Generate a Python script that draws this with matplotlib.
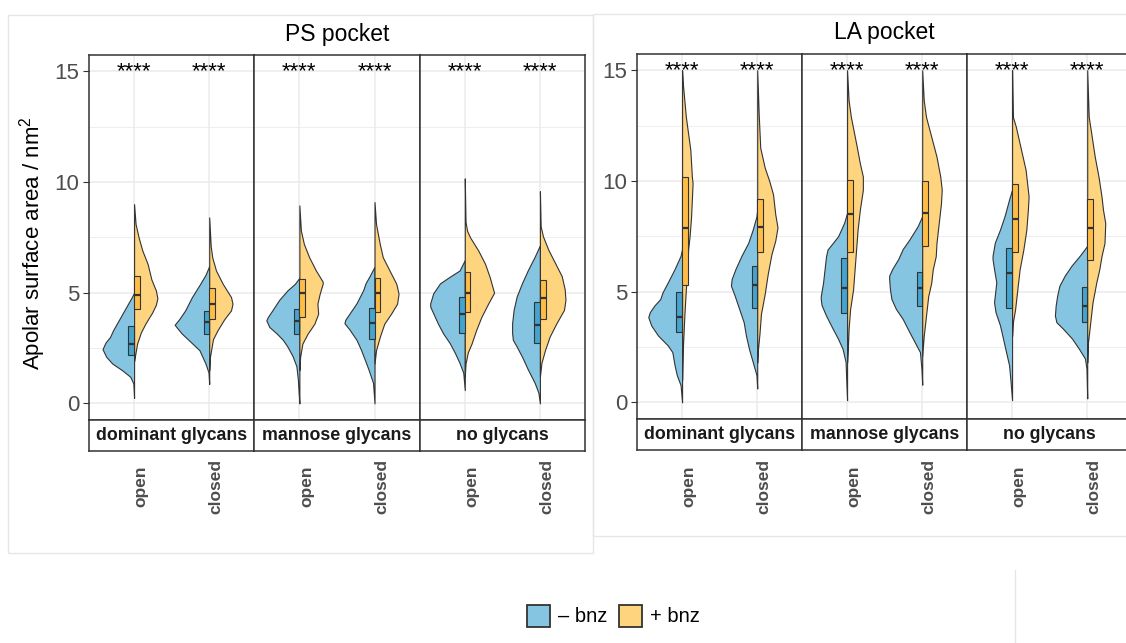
import matplotlib.pyplot as plt
from matplotlib.patches import Rectangle
from matplotlib.lines import Line2D

plt.rcParams['font.family'] = ['Liberation Sans', 'DejaVu Sans']
plt.rcParams['mathtext.fontset'] = 'custom'
plt.rcParams['mathtext.rm'] = 'Liberation Sans'
plt.rcParams['mathtext.it'] = 'Liberation Sans:italic'

pockets = ["PS pocket", "LA pocket"]
glycans = ["dominant glycans", "mannose glycans", "no glycans"]
states = ["open", "closed"]
treatments = ["\u2013 bnz", "+ bnz"]
signif = "****"

# half-violin outlines: (value, half width in category units)
ps_dom_open_minus = [(0.25, 0), (0.9, 0.01), (1.2, 0.05), (1.5, 0.16), (1.8, 0.29), (2.1, 0.37), (2.45, 0.42),
                     (2.75, 0.38), (3.0, 0.32), (3.3, 0.28), (3.6, 0.23), (3.9, 0.18), (4.2, 0.13), (4.5, 0.08),
                     (4.8, 0.03), (5.0, 0)]
ps_dom_open_plus = [(1.9, 0), (2.1, 0.01), (2.7, 0.04), (3.2, 0.09), (3.6, 0.15), (4.1, 0.24), (4.45, 0.29),
                    (4.75, 0.31), (5.1, 0.29), (5.6, 0.23), (6.3, 0.18), (6.9, 0.11), (7.5, 0.06), (8.1, 0.02),
                    (9.0, 0)]
ps_dom_closed_minus = [(0.88, 0), (1.4, 0.01), (1.8, 0.05), (2.4, 0.13), (2.85, 0.27), (3.17, 0.37), (3.55, 0.46),
                       (3.8, 0.40), (4.2, 0.32), (4.8, 0.23), (5.4, 0.12), (5.8, 0.05), (6.2, 0)]
ps_dom_closed_plus = [(1.5, 0), (2.1, 0.01), (2.9, 0.05), (3.3, 0.11), (3.8, 0.20), (4.2, 0.29), (4.5, 0.31),
                      (4.8, 0.29), (5.4, 0.18), (6.0, 0.09), (6.6, 0.04), (7.1, 0.02), (8.4, 0)]
ps_man_open_minus = [(0.0, 0), (0.5, 0.01), (1.08, 0.02), (1.68, 0.04), (2.13, 0.09), (2.57, 0.16), (2.87, 0.22),
                     (3.15, 0.30), (3.45, 0.40), (3.75, 0.44), (3.9, 0.42), (4.2, 0.36), (4.67, 0.27), (5.1, 0.16),
                     (5.4, 0.06), (5.67, 0)]
ps_man_open_plus = [(1.5, 0), (2.1, 0.01), (2.7, 0.04), (3.15, 0.11), (3.6, 0.20), (4.05, 0.25), (4.5, 0.24),
                    (4.95, 0.27), (5.4, 0.31), (5.5, 0.31), (6.0, 0.22), (6.6, 0.13), (7.2, 0.06), (7.8, 0.02),
                    (8.94, 0)]
ps_man_closed_minus = [(0.0, 0), (0.93, 0.02), (1.53, 0.08), (1.98, 0.13), (2.42, 0.18), (2.87, 0.24), (3.32, 0.33),
                       (3.62, 0.40), (3.77, 0.39), (4.07, 0.33), (4.52, 0.24), (5.12, 0.15), (5.42, 0.12),
                       (5.72, 0.07), (6.17, 0)]
ps_man_closed_plus = [(1.8, 0), (2.4, 0.02), (3.0, 0.07), (3.6, 0.13), (4.05, 0.22), (4.5, 0.30), (4.95, 0.32),
                      (5.4, 0.29), (6.0, 0.20), (6.6, 0.11), (7.2, 0.07), (8.1, 0.02), (9.09, 0)]
ps_no_open_minus = [(0.6, 0), (1.38, 0.02), (1.83, 0.07), (2.27, 0.13), (2.72, 0.20), (3.17, 0.29), (3.62, 0.36),
                    (4.07, 0.42), (4.37, 0.46), (4.52, 0.46), (4.97, 0.42), (5.42, 0.33), (5.72, 0.20), (6.0, 0.07),
                    (6.47, 0)]
ps_no_open_plus = [(1.2, 0), (1.8, 0.01), (2.3, 0.04), (2.7, 0.09), (3.3, 0.15), (3.9, 0.22), (4.5, 0.31),
                   (5.0, 0.39), (5.72, 0.33), (6.3, 0.27), (6.9, 0.18), (7.5, 0.07), (7.8, 0.03), (8.2, 0.01),
                   (10.16, 0)]
ps_no_closed_minus = [(0.0, 0), (0.48, 0.02), (0.93, 0.07), (1.53, 0.16), (2.12, 0.24), (2.57, 0.31), (2.87, 0.36),
                      (3.17, 0.37), (3.62, 0.37), (4.22, 0.35), (4.82, 0.31), (5.42, 0.24), (6.02, 0.16),
                      (6.62, 0.07), (7.14, 0)]
ps_no_closed_plus = [(1.2, 0), (1.83, 0.02), (2.43, 0.07), (3.02, 0.13), (3.62, 0.22), (4.22, 0.32), (4.67, 0.34),
                     (5.15, 0.33), (5.75, 0.29), (6.35, 0.20), (6.95, 0.11), (7.55, 0.04), (8.0, 0.01), (9.58, 0)]

la_dom_open_minus = [(0.0, 0), (0.78, 0.02), (1.23, 0.07), (1.68, 0.10), (2.27, 0.13), (2.57, 0.19), (3.02, 0.32),
                     (3.47, 0.41), (3.85, 0.45), (4.07, 0.43), (4.37, 0.37), (4.67, 0.29), (4.97, 0.26),
                     (5.42, 0.19), (6.02, 0.10), (6.62, 0.02), (6.92, 0)]
la_dom_open_plus = [(1.0, 0), (2.4, 0.01), (3.9, 0.03), (5.1, 0.05), (6.0, 0.07), (6.9, 0.08), (7.5, 0.10),
                    (8.4, 0.12), (9.9, 0.14), (10.2, 0.13), (11.4, 0.11), (12.9, 0.05), (14.4, 0.01), (15.0, 0)]
la_dom_closed_minus = [(0.63, 0), (1.23, 0.01), (1.83, 0.06), (2.42, 0.11), (3.02, 0.15), (3.62, 0.18), (4.22, 0.24),
                       (4.82, 0.30), (5.27, 0.35), (5.57, 0.34), (6.02, 0.29), (6.62, 0.21), (7.2, 0.12),
                       (7.8, 0.06), (8.4, 0.01), (8.7, 0)]
la_dom_closed_plus = [(1.8, 0), (2.4, 0.01), (3.1, 0.03), (4.0, 0.05), (4.9, 0.10), (5.8, 0.14), (6.7, 0.19),
                      (7.3, 0.24), (7.9, 0.27), (8.5, 0.24), (9.4, 0.21), (10.0, 0.16), (10.6, 0.10), (11.5, 0.04),
                      (13.0, 0.02), (15.0, 0)]
la_man_open_minus = [(0.1, 0), (0.93, 0.01), (1.83, 0.02), (2.42, 0.06), (2.87, 0.12), (3.32, 0.19), (3.92, 0.28),
                     (4.4, 0.34), (4.67, 0.35), (4.8, 0.35), (5.4, 0.32), (6.0, 0.30), (6.6, 0.28), (6.9, 0.26),
                     (7.2, 0.19), (7.5, 0.12), (8.1, 0.04), (8.56, 0)]
la_man_open_plus = [(1.8, 0), (2.4, 0.01), (3.3, 0.02), (4.2, 0.04), (5.1, 0.08), (6.0, 0.10), (6.9, 0.12),
                    (7.8, 0.14), (8.7, 0.17), (9.6, 0.21), (10.2, 0.21), (10.8, 0.17), (11.7, 0.12), (12.9, 0.05),
                    (13.65, 0.02), (15.0, 0)]
la_man_closed_minus = [(0.8, 0), (1.5, 0.01), (2.27, 0.03), (2.72, 0.10), (3.17, 0.17), (3.77, 0.26), (4.22, 0.35),
                       (4.67, 0.41), (5.12, 0.43), (5.57, 0.44), (5.72, 0.44), (6.02, 0.40), (6.47, 0.32),
                       (6.92, 0.26), (7.36, 0.17), (7.96, 0.06), (8.41, 0)]
la_man_closed_plus = [(2.1, 0), (3.0, 0.02), (3.9, 0.05), (4.8, 0.08), (5.4, 0.12), (6.0, 0.14), (6.6, 0.18),
                      (7.2, 0.19), (7.8, 0.21), (8.4, 0.23), (9.0, 0.25), (9.6, 0.26), (10.2, 0.24), (11.1, 0.19),
                      (12.0, 0.12), (12.9, 0.05), (13.65, 0.02), (15.0, 0)]
la_no_open_minus = [(0.1, 0), (0.93, 0.02), (1.68, 0.04), (2.27, 0.08), (2.87, 0.12), (3.47, 0.16), (4.07, 0.22),
                    (4.52, 0.24), (4.82, 0.23), (5.42, 0.21), (6.02, 0.24), (6.47, 0.26), (6.62, 0.26),
                    (7.21, 0.23), (7.81, 0.16), (8.41, 0.10), (9.16, 0.04), (9.61, 0)]
la_no_open_plus = [(3.0, 0), (3.6, 0.01), (4.2, 0.04), (5.1, 0.07), (6.0, 0.10), (6.9, 0.15), (7.8, 0.19),
                   (8.7, 0.21), (9.3, 0.22), (9.6, 0.21), (10.5, 0.18), (11.4, 0.12), (12.45, 0.05), (12.9, 0.01),
                   (15.0, 0)]
la_no_closed_minus = [(0.18, 0), (1.53, 0.01), (1.98, 0.03), (2.42, 0.11), (2.87, 0.20), (3.32, 0.32), (3.62, 0.41),
                      (3.92, 0.43), (4.37, 0.42), (4.82, 0.40), (5.27, 0.37), (5.72, 0.30), (6.17, 0.21),
                      (6.62, 0.10), (7.07, 0)]
la_no_closed_plus = [(1.8, 0), (2.7, 0.01), (3.6, 0.04), (4.5, 0.07), (5.4, 0.12), (6.0, 0.16), (6.6, 0.19),
                     (7.2, 0.23), (8.1, 0.24), (8.7, 0.21), (9.3, 0.19), (10.2, 0.15), (11.1, 0.10), (12.0, 0.06),
                     (12.9, 0.02), (15.0, 0)]

# boxplots (q1, median, q3), order: dominant open/closed, mannose open/closed, no open/closed
ps_box_minus = [(2.2, 2.7, 3.5), (3.13, 3.67, 4.18), (3.13, 3.7, 4.28), (2.9, 3.65, 4.31), (3.17, 4.03, 4.79),
                (2.72, 3.55, 4.58)]
ps_box_plus = [(4.25, 4.9, 5.76), (3.8, 4.48, 5.21), (3.88, 4.97, 5.6), (4.13, 4.97, 5.64), (4.13, 4.97, 5.94),
               (3.83, 4.75, 5.57)]
la_box_minus = [(3.2, 3.85, 4.97), (4.25, 5.3, 6.17), (4.03, 5.16, 6.51), (4.37, 5.16, 5.91), (4.27, 5.84, 6.96),
                (3.62, 4.37, 5.19)]
la_box_plus = [(5.3, 7.86, 10.16), (6.8, 7.93, 9.2), (6.77, 8.49, 10.03), (7.07, 8.53, 10.0), (6.77, 8.26, 9.85),
               (6.42, 7.89, 9.2)]

violins = {
    "PS pocket": ([ps_dom_open_minus, ps_dom_closed_minus, ps_man_open_minus, ps_man_closed_minus,
                   ps_no_open_minus, ps_no_closed_minus],
                  [ps_dom_open_plus, ps_dom_closed_plus, ps_man_open_plus, ps_man_closed_plus,
                   ps_no_open_plus, ps_no_closed_plus]),
    "LA pocket": ([la_dom_open_minus, la_dom_closed_minus, la_man_open_minus, la_man_closed_minus,
                   la_no_open_minus, la_no_closed_minus],
                  [la_dom_open_plus, la_dom_closed_plus, la_man_open_plus, la_man_closed_plus,
                   la_no_open_plus, la_no_closed_plus]),
}
boxes = {"PS pocket": (ps_box_minus, ps_box_plus), "LA pocket": (la_box_minus, la_box_plus)}

violin_col = ["#86C5E1", "#FFD47F"]
box_col = ["#42A4CF", "#FFBD45"]
edge = "#333333"

W, H = 1126, 643
fig = plt.figure(figsize=(W / 100, H / 100), dpi=100)


def fx(px):
    return px / W


def fy(py):
    return 1 - py / H


# faint frames of the two pasted panels
fig.add_artist(Rectangle((fx(8), fy(553)), fx(585), (553 - 15) / H, transform=fig.transFigure,
                         fill=False, ec="#E6E6E6", lw=1))
fig.add_artist(Rectangle((fx(593), fy(535.7)), fx(540), (535.7 - 13.6) / H, transform=fig.transFigure,
                         fill=False, ec="#E6E6E6", lw=1))
fig.add_artist(Line2D([fx(1015), fx(1015)], [fy(570), 0], transform=fig.transFigure, color="#E6E6E6", lw=1))

facet_left = {"PS pocket": [89, 254.3, 419.7], "LA pocket": [637, 802, 967]}
facet_w = 165.3
facet_top = {"PS pocket": 54.6, "LA pocket": 53.6}
facet_bot = {"PS pocket": 420, "LA pocket": 419}
strip_h = 30.5
title_pos = {"PS pocket": (336.8, 34), "LA pocket": (884, 32)}
bw = 0.075

for p in pockets:
    top, bot = facet_top[p], facet_bot[p]
    for i, g in enumerate(glycans):
        left = facet_left[p][i]
        ax = fig.add_axes([fx(left), fy(bot), fx(facet_w), (bot - top) / H])
        ax.set_xlim(0.4, 2.6)
        ax.set_ylim(-0.75, 15.75)
        ax.set_xticks([1, 2])
        ax.set_yticks([0, 5, 10, 15])
        ax.set_yticks([2.5, 7.5, 12.5], minor=True)
        ax.set_axisbelow(True)
        ax.grid(which="major", color="#EBEBEB", lw=1.1)
        ax.grid(which="minor", axis="y", color="#EBEBEB", lw=0.6)
        ax.tick_params(axis="x", length=0, labelbottom=False)
        ax.tick_params(axis="y", which="minor", length=0)
        if i == 0:
            ax.tick_params(axis="y", length=4, width=0.8, color=edge, pad=3, labelsize=16, labelcolor="#4D4D4D")
        else:
            ax.tick_params(axis="y", length=0, labelleft=False)
        for s in ax.spines.values():
            s.set_color(edge)
            s.set_linewidth(1.1)

        for j, st in enumerate(states):
            x0 = j + 1
            k = 2 * i + j
            for t in range(2):
                prof = violins[p][t][k]
                ys = [a for a, b in prof]
                if t == 0:
                    xs = [x0 - b for a, b in prof]
                else:
                    xs = [x0 + b for a, b in prof]
                ax.fill_betweenx(ys, xs, x0, facecolor=violin_col[t], edgecolor=edge, lw=0.8, zorder=2)
            for t in range(2):
                q1, med, q3 = boxes[p][t][k]
                xl = x0 - bw if t == 0 else x0
                ax.add_patch(Rectangle((xl, q1), bw, q3 - q1, facecolor=box_col[t], edgecolor=edge,
                                       lw=0.8, zorder=3))
                ax.plot([xl, xl + bw], [med, med], color=edge, lw=1.6, zorder=4, solid_capstyle="butt")
            ax.text(x0, 14.72, signif, ha="center", va="baseline", fontsize=16, color="black")
            fig.text(fx(left + facet_w * (x0 - 0.4) / 2.2 + 7), fy(486), st, rotation=90, ha="center",
                     va="center", fontsize=12.5, fontweight="bold", color="#4D4D4D")

        sax = fig.add_axes([fx(left), fy(bot + strip_h), fx(facet_w), strip_h / H])
        sax.set_xticks([])
        sax.set_yticks([])
        for s in sax.spines.values():
            s.set_color(edge)
            s.set_linewidth(1.1)
        sax.text(0.5, 0.5, g, transform=sax.transAxes, ha="center", va="center", fontsize=12.8,
                 fontweight="bold", color="#1A1A1A")

    tx, ty = title_pos[p]
    fig.text(fx(tx), fy(ty), p, ha="center", va="center", fontsize=16.5, color="black")

fig.text(fx(33), fy(243), "Apolar surface area / nm$^2$", rotation=90, ha="center", va="center",
         fontsize=16, color="black")

# legend
leg_x = [527, 619]
for t in range(2):
    fig.add_artist(Rectangle((fx(leg_x[t]), fy(627)), fx(23), 22 / H, transform=fig.transFigure,
                             facecolor=violin_col[t], edgecolor=edge, lw=1.3))
    fig.text(fx(leg_x[t] + 31), fy(616), treatments[t], ha="left", va="center", fontsize=14.5, color="black")

fig.savefig("out.png", dpi=100)
